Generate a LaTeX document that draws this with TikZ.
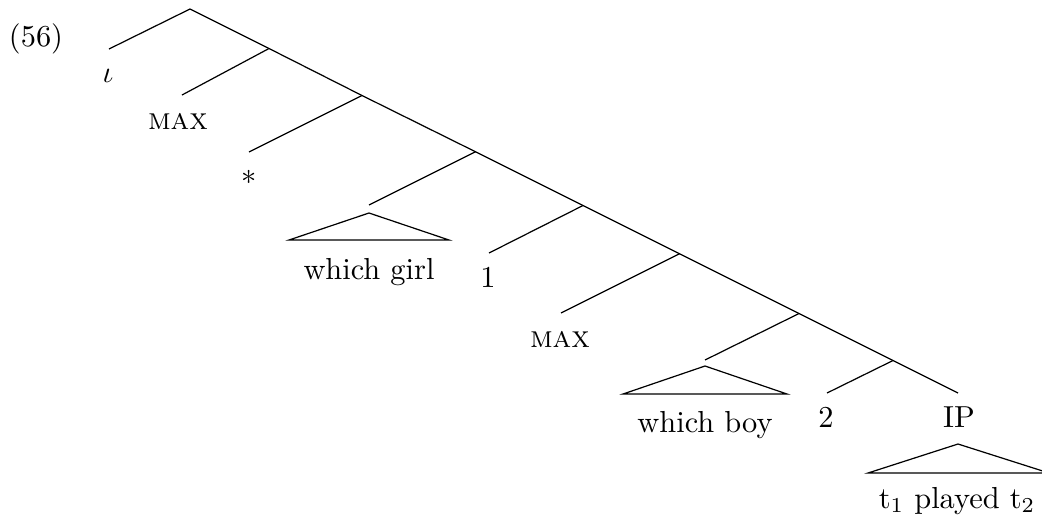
\documentclass[tikz,border=0pt]{standalone}
\begin{document}
\begin{tikzpicture}[x=0.329pt,y=-0.329pt,
  edge/.style={line width=0.4pt},
  lbl/.style={inner sep=0pt,anchor=base}]
\useasboundingbox (0,0) rectangle (1042,520);
\node[lbl] (ex) at (36,46) {(56)};
% spine nodes
\coordinate (root) at (190,9);
\coordinate (n1) at (269,48.5);
\coordinate (n2) at (362,95.5);
\coordinate (n3) at (475.5,151.75);
\coordinate (n4) at (583,205.5);
\coordinate (n5) at (679.5,253.75);
\coordinate (n6) at (799,313.5);
\coordinate (n7) at (893,360.5);
\coordinate (ipT) at (958,393);
% leaf tops
\coordinate (iotaT) at (109,49);
\coordinate (max1T) at (182,95);
\coordinate (starT) at (249,152);
\coordinate (wgT) at (369,205);
\coordinate (oneT) at (489,253);
\coordinate (max2T) at (561,313);
\coordinate (wbT) at (705,360);
\coordinate (twoT) at (827,393);
% labels
\node[lbl] (iota) at (108,82) {$\iota$};
\node[lbl] (max1) at (178,129) {\textsc{max}};
\node[lbl] (star) at (249,184) {$*$};
\node[lbl] (wg) at (369,279) {which girl};
\node[lbl] (one) at (488,287) {1};
\node[lbl] (max2) at (560,347) {\textsc{max}};
\node[lbl] (wb) at (705,432) {which boy};
\node[lbl] (two) at (826,427) {2};
\node[lbl] (ip) at (959,427) {IP};
\node[lbl] (tpt) at (957,508) {t$_1$ played t$_2$};
% spine
\draw[edge] (root) -- (n1) -- (n2) -- (n3) -- (n4) -- (n5) -- (n6) -- (n7) -- (ipT);
% branches
\draw[edge] (root) -- (iotaT);
\draw[edge] (n1) -- (max1T);
\draw[edge] (n2) -- (starT);
\draw[edge] (n3) -- (wgT);
\draw[edge] (n4) -- (oneT);
\draw[edge] (n5) -- (max2T);
\draw[edge] (n6) -- (wbT);
\draw[edge] (n7) -- (twoT);
% triangles
\draw[edge] (369,213) -- (289,240) -- (449,240) -- cycle;
\draw[edge] (705,366) -- (623,394) -- (787,394) -- cycle;
\draw[edge] (958,444) -- (868,473) -- (1049,473) -- cycle;
\end{tikzpicture}
\end{document}
